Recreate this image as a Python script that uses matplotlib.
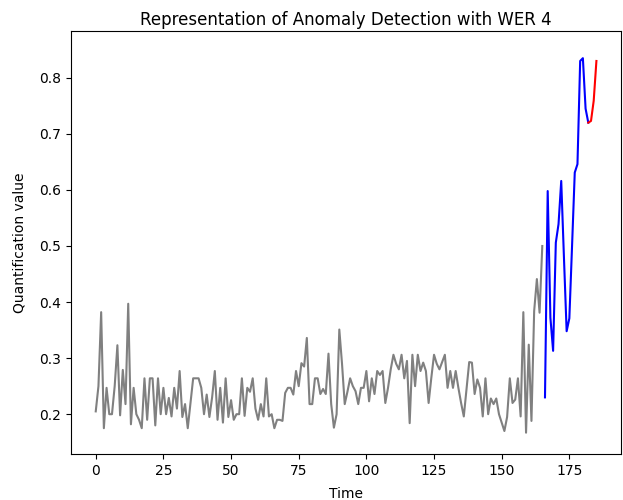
import matplotlib
matplotlib.use('Agg')
import matplotlib.pyplot as plt

# observed series (grey), detection window (blue), anomaly tail (red)
normal_vals = [0.205, 0.25, 0.382, 0.175, 0.247, 0.2, 0.2, 0.25, 0.323, 0.198,
               0.279, 0.218, 0.397, 0.182, 0.247, 0.2, 0.19, 0.175, 0.264, 0.19,
               0.264, 0.264, 0.18, 0.264, 0.2, 0.247, 0.2, 0.229, 0.196, 0.247,
               0.21, 0.277, 0.195, 0.218, 0.175, 0.22, 0.264, 0.264, 0.264, 0.247,
               0.2, 0.235, 0.195, 0.23, 0.277, 0.19, 0.247, 0.185, 0.264, 0.195,
               0.225, 0.19, 0.2, 0.2, 0.264, 0.197, 0.247, 0.24, 0.264, 0.21,
               0.19, 0.218, 0.196, 0.264, 0.196, 0.2, 0.175, 0.19, 0.19, 0.188,
               0.238, 0.247, 0.247, 0.235, 0.277, 0.25, 0.291, 0.285, 0.336, 0.218,
               0.218, 0.264, 0.264, 0.236, 0.245, 0.236, 0.308, 0.218, 0.176, 0.2,
               0.351, 0.29, 0.218, 0.24, 0.264, 0.25, 0.241, 0.218, 0.247, 0.247,
               0.277, 0.223, 0.264, 0.236, 0.277, 0.27, 0.277, 0.22, 0.247, 0.28,
               0.306, 0.29, 0.28, 0.306, 0.264, 0.295, 0.184, 0.306, 0.25, 0.306,
               0.277, 0.292, 0.277, 0.22, 0.265, 0.306, 0.29, 0.28, 0.293, 0.306,
               0.247, 0.277, 0.247, 0.277, 0.247, 0.22, 0.196, 0.245, 0.293, 0.292,
               0.236, 0.262, 0.247, 0.196, 0.264, 0.2, 0.228, 0.218, 0.228, 0.2,
               0.185, 0.17, 0.195, 0.264, 0.22, 0.226, 0.264, 0.196, 0.382, 0.167,
               0.324, 0.188, 0.384, 0.441, 0.381, 0.5]
window_vals = [0.23, 0.598, 0.372, 0.313, 0.506, 0.539, 0.616, 0.48, 0.348,
               0.371, 0.5, 0.631, 0.646, 0.83, 0.835, 0.745, 0.72]
anomaly_vals = [0.72, 0.723, 0.759, 0.83]

normal_t = list(range(len(normal_vals)))
window_t = list(range(len(normal_vals), len(normal_vals) + len(window_vals)))
anomaly_t = list(range(window_t[-1], window_t[-1] + len(anomaly_vals)))

fig = plt.figure(figsize=(6.23, 5.0), dpi=100)
ax = fig.add_axes([0.1135, 0.092, 0.884, 0.8466])
ax.plot(normal_t, normal_vals, color='grey')
ax.plot(window_t, window_vals, color='blue')
ax.plot(anomaly_t, anomaly_vals, color='red')
ax.set_title('Representation of Anomaly Detection with WER 4', pad=4)
ax.set_xlabel('Time', labelpad=7)
ax.set_ylabel('Quantification value', labelpad=9)
ax.set_xticks([0, 25, 50, 75, 100, 125, 150, 175])
ax.set_ylim(0.129, 0.884)
fig.savefig('out.png')
